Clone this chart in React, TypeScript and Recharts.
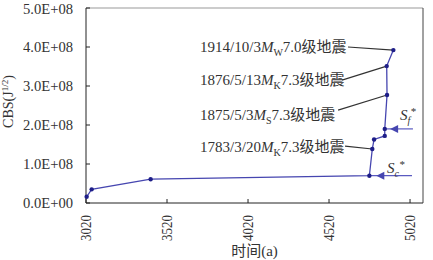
import { LineChart, Line, XAxis, YAxis, ReferenceLine, ReferenceDot } from 'recharts';

const years = [3024, 3055, 3419, 4769, 4787, 4798, 4864, 4864, 4878, 4876, 4917];
const cbs = [0.16e8, 0.35e8, 0.61e8, 0.7e8, 1.385e8, 1.63e8, 1.72e8, 1.9e8, 2.77e8, 3.51e8, 3.92e8];
const xTicks = [3020, 3520, 4020, 4520, 5020];
const yTicks = [0, 1e8, 2e8, 3e8, 4e8, 5e8];

// earthquake labels: text anchor (left) + leader line start, pointing at a data index
const quakes = [
  { date: '1914/10/3', sub: 'W', mag: '7.0', textY: 4.0e8, lineX: 4637, lineY: 4.0e8, idx: 10 },
  { date: '1876/5/13', sub: 'K', mag: '7.3', textY: 3.15e8, lineX: 4600, lineY: 3.15e8, idx: 9 },
  { date: '1875/5/3', sub: 'S', mag: '7.3', textY: 2.26e8, lineX: 4576, lineY: 2.38e8, idx: 8 },
  { date: '1783/3/20', sub: 'K', mag: '7.3', textY: 1.44e8, lineX: 4619, lineY: 1.46e8, idx: 4 },
];
const labelX = 3724;

// threshold arrows Sc*, Sf*
const thresholds = [
  { name: 'c', y: 0.7e8, from: 4769, to: 5032, tip: 4812, textX: 4878, textY: 0.9e8 },
  { name: 'f', y: 1.9e8, from: 4864, to: 5038, tip: 4897, textX: 4958, textY: 2.26e8 },
];

const data = years.map((t, i) => ({ t, v: cbs[i] }));

const SERIF = "'Liberation Serif', 'Times New Roman', 'Noto Sans CJK SC', serif";
const LINE = '#4646b0';
const DOT = '#1e1e88';

const fmt = (v: number) => {
  if (v === 0) return '0.0E+00';
  const e = Math.floor(Math.log10(v));
  return (v / Math.pow(10, e)).toFixed(1) + 'E+' + String(e).padStart(2, '0');
};

const YTick = ({ x, y, payload }: any) => (
  <text x={x} y={y} dy="0.35em" textAnchor="end" fontSize={14} fontFamily={SERIF} fill="#333"
    textLength={50} lengthAdjust="spacingAndGlyphs">
    {fmt(payload.value)}
  </text>
);

const XTick = ({ x, y, payload }: any) => (
  <text x={x} y={y} dy="0.35em" textAnchor="end" fontSize={14} fontFamily={SERIF} fill="#333"
    transform={`rotate(-90, ${x}, ${y})`} textLength={26} lengthAdjust="spacingAndGlyphs">
    {payload.value}
  </text>
);

const YLabel = ({ viewBox }: any) => {
  const x = viewBox.x + 8;
  const y = viewBox.y + viewBox.height / 2 - 4;
  return (
    <text x={x} y={y} dy="0.35em" textAnchor="middle" fontSize={14} fontFamily={SERIF} fill="#333"
      transform={`rotate(-90, ${x}, ${y})`}>
      CBS(J<tspan fontSize={9} dy={-5}>1/2</tspan><tspan dy={5}>)</tspan>
    </text>
  );
};

const XLabel = ({ viewBox }: any) => (
  <text x={viewBox.x + viewBox.width / 2} y={viewBox.y + 48} dy="0.35em" textAnchor="middle"
    fontSize={15} fontFamily={SERIF} fill="#333">
    时间(a)
  </text>
);

const Arrow = ({ cx, cy }: any) => (
  <polygon points={`${cx},${cy} ${cx + 8},${cy - 4} ${cx + 8},${cy + 4}`} fill={LINE} />
);

export default function App() {
  return (
    <div style={{ position: 'absolute', left: 0, top: 0, background: '#fff' }}>
      <LineChart width={433} height={260} data={data} margin={{ top: 8, right: 10, left: 0, bottom: 0 }}>
        <XAxis
          dataKey="t"
          type="number"
          domain={[3020, 5100]}
          ticks={xTicks}
          height={57}
          tickSize={-4}
          tickMargin={16}
          tick={<XTick />}
          stroke="#222"
          label={<XLabel />}
        />
        <YAxis
          type="number"
          domain={[0, 5e8]}
          ticks={yTicks}
          width={86}
          tickSize={-4}
          tickMargin={17}
          tick={<YTick />}
          stroke="#222"
          label={<YLabel />}
        />
        <ReferenceLine y={5e8} stroke="#999" />
        <ReferenceLine x={5100} stroke="#444" />
        {thresholds.map((s) => (
          <ReferenceLine key={'l' + s.name} segment={[{ x: s.from, y: s.y }, { x: s.to, y: s.y }]}
            stroke="#5a5ac0" strokeWidth={1.2} />
        ))}
        {thresholds.map((s) => (
          <ReferenceDot key={'a' + s.name} x={s.tip} y={s.y} r={4} shape={<Arrow />} />
        ))}
        {thresholds.map((s) => (
          <ReferenceDot key={'t' + s.name} x={s.textX} y={s.textY} r={1}
            shape={(p: any) => (
              <text x={p.cx} y={p.cy} dy="0.35em" fontSize={15} fontFamily={SERIF} fill="#333" fontStyle="italic">
                S<tspan fontSize={10} dy={4}>{s.name}</tspan><tspan fontSize={11} dy={-9}>*</tspan>
              </text>
            )} />
        ))}
        {quakes.map((q) => (
          <ReferenceLine key={'q' + q.date}
            segment={[{ x: q.lineX, y: q.lineY }, { x: years[q.idx], y: cbs[q.idx] }]}
            stroke="#333" strokeWidth={1.2} />
        ))}
        {quakes.map((q) => (
          <ReferenceDot key={'qt' + q.date} x={labelX} y={q.textY} r={1}
            shape={(p: any) => (
              <text x={p.cx} y={p.cy} dy="0.35em" fontSize={15} fontFamily={SERIF} fill="#333">
                {q.date}<tspan fontStyle="italic">M</tspan>
                <tspan fontSize={10} dy={4}>{q.sub}</tspan>
                <tspan dy={-4}>{q.mag}级地震</tspan>
              </text>
            )} />
        ))}
        <Line
          type="linear"
          dataKey="v"
          stroke={LINE}
          strokeWidth={1.3}
          dot={{ r: 2.2, fill: DOT, stroke: DOT, strokeWidth: 0 }}
          isAnimationActive={false}
        />
      </LineChart>
    </div>
  );
}
